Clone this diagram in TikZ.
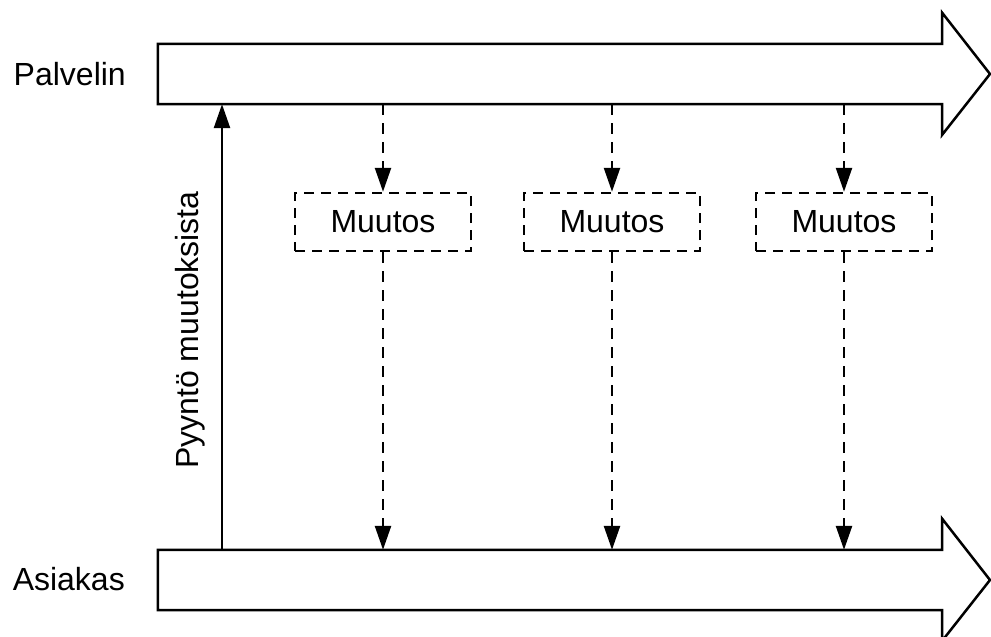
\documentclass[tikz,border=0pt]{standalone}
\usepackage{fontspec}
\setmainfont{Liberation Sans}
\usetikzlibrary{arrows.meta}
\begin{document}
\begin{tikzpicture}[x=1pt,y=-1pt,
  txt/.style={font=\fontsize{32}{38}\selectfont, text=black, inner sep=0pt},
  lanebody/.style={rectangle, draw=none, inner sep=0pt, minimum width=784pt, minimum height=60pt},
  laneline/.style={draw=black, line width=2.5pt, fill=white, line join=miter},
  change/.style={txt, draw=black, line width=2.5pt, dash pattern=on 10pt off 7pt,
    minimum width=176pt, minimum height=58pt},
  flow/.style={line width=2.5pt, -{Triangle[length=24pt,width=16pt]}},
  dflow/.style={flow, dash pattern=on 11pt off 8pt},
]
\useasboundingbox (0,0) rectangle (991,637);

% timeline bodies (158..942 wide, 60 high)
\node[lanebody] (srv) at (550,74) {};
\node[lanebody] (cli) at (550,580) {};

% timeline outlines: body plus arrow head
\draw[laneline] (srv.north west) -- (srv.north east) -- ++(0,-31) -- (990,74)
  -- (942,135) -- (srv.south east) -- (srv.south west) -- cycle;
\draw[laneline] (cli.north west) -- (cli.north east) -- ++(0,-31) -- (990,580)
  -- (942,641) -- (cli.south east) -- (cli.south west) -- cycle;

% lane labels
\node[txt, anchor=base east] (srvlabel) at (126,85) {Palvelin};
\node[txt, anchor=base east] (clilabel) at (125,590) {Asiakas};

% change boxes
\node[change] (m1) at (383,222) {Muutos};
\node[change] (m2) at (612,222) {Muutos};
\node[change] (m3) at (844,222) {Muutos};

% request from client to server
\coordinate (req) at (222,330);
\draw[flow] (req |- cli.north) -- (req |- srv.south);
\node[txt, rotate=90, anchor=base] (reqlabel) at (198,330) {Pyyntö muutoksista};

% changes pushed through to the client
\foreach \m in {m1,m2,m3}{
  \draw[dflow] (srv.south -| \m.north) -- (\m.north);
  \draw[dflow] (\m.south) -- (\m.south |- cli.north);
}
\end{tikzpicture}
\end{document}
